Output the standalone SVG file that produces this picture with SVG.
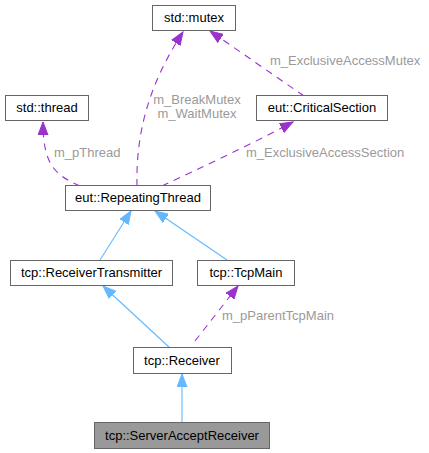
<svg xmlns="http://www.w3.org/2000/svg" width="429" height="453" viewBox="0 0 429 453">
<style>
.node rect{fill:#ffffff;stroke:#666666;stroke-width:1}
.node text{font-family:"Liberation Sans",Arial,sans-serif;font-size:13px;fill:#000000;text-anchor:middle}
.lbl{font-family:"Liberation Sans",Arial,sans-serif;font-size:13px;fill:#9a9a9a}
.inh{fill:none;stroke:#63b8ff;stroke-width:1.1}
.use{fill:none;stroke:#9a32cd;stroke-width:1.1;stroke-dasharray:7,6}
</style>
<defs>
<marker id="ab" markerUnits="userSpaceOnUse" markerWidth="14" markerHeight="11" refX="13" refY="5.5" orient="auto">
<path d="M0,0.5 L13,5.5 L0,10.5 z" fill="#63b8ff" stroke="#63b8ff" stroke-width="1"/>
</marker>
<marker id="ap" markerUnits="userSpaceOnUse" markerWidth="14" markerHeight="11" refX="13" refY="5.5" orient="auto">
<path d="M0,0.5 L13,5.5 L0,10.5 z" fill="#9a32cd" stroke="#9a32cd" stroke-width="1"/>
</marker>
</defs>
<rect width="429" height="453" fill="#ffffff"/>
<g id="edges">
<path class="use" d="M137,186 C136,140 145,90 183,32" marker-end="url(#ap)"/>
<text class="lbl" x="197" y="104" text-anchor="middle">m_BreakMutex</text>
<text class="lbl" x="197" y="118" text-anchor="middle">m_WaitMutex</text>
<path class="use" d="M304,96 L210,31" marker-end="url(#ap)"/>
<text class="lbl" x="270" y="65">m_ExclusiveAccessMutex</text>
<path class="use" d="M80,186 C55,175 43,165 43,122" marker-end="url(#ap)"/>
<text class="lbl" x="54" y="157">m_pThread</text>
<path class="use" d="M162,186 C200,168 250,145 293,122" marker-end="url(#ap)"/>
<text class="lbl" x="246" y="157">m_ExclusiveAccessSection</text>
<path class="inh" d="M100,260 L131,211" marker-end="url(#ab)"/>
<path class="inh" d="M227,260 L155,211" marker-end="url(#ab)"/>
<path class="inh" d="M170,348 L103,286" marker-end="url(#ab)"/>
<path class="use" d="M195,341 L238,286" marker-end="url(#ap)"/>
<text class="lbl" x="222" y="320">m_pParentTcpMain</text>
<path class="inh" d="M182,422 L182,374" marker-end="url(#ab)"/>
</g>
<g id="std_mutex" class="node"><rect x="152.5" y="5.5" width="83" height="25"/><text x="194" y="22">std::mutex</text></g>
<g id="std_thread" class="node"><rect x="5.5" y="95.5" width="83" height="25"/><text x="47" y="112">std::thread</text></g>
<g id="eut_CriticalSection" class="node"><rect x="256.5" y="95.5" width="131" height="25"/><text x="322" y="112">eut::CriticalSection</text></g>
<g id="eut_RepeatingThread" class="node"><rect x="65.5" y="185.5" width="145" height="25"/><text x="138" y="202">eut::RepeatingThread</text></g>
<g id="tcp_ReceiverTransmitter" class="node"><rect x="10.5" y="260.5" width="162" height="25"/><text x="91.5" y="277">tcp::ReceiverTransmitter</text></g>
<g id="tcp_TcpMain" class="node"><rect x="197.5" y="260.5" width="97" height="25"/><text x="246" y="277">tcp::TcpMain</text></g>
<g id="tcp_Receiver" class="node"><rect x="133.5" y="347.5" width="98" height="26"/><text x="182" y="365">tcp::Receiver</text></g>
<g id="tcp_ServerAcceptReceiver" class="node"><rect x="94.5" y="422.5" width="175" height="26" style="fill:#999999"/><text x="182" y="440">tcp::ServerAcceptReceiver</text></g>
</svg>
